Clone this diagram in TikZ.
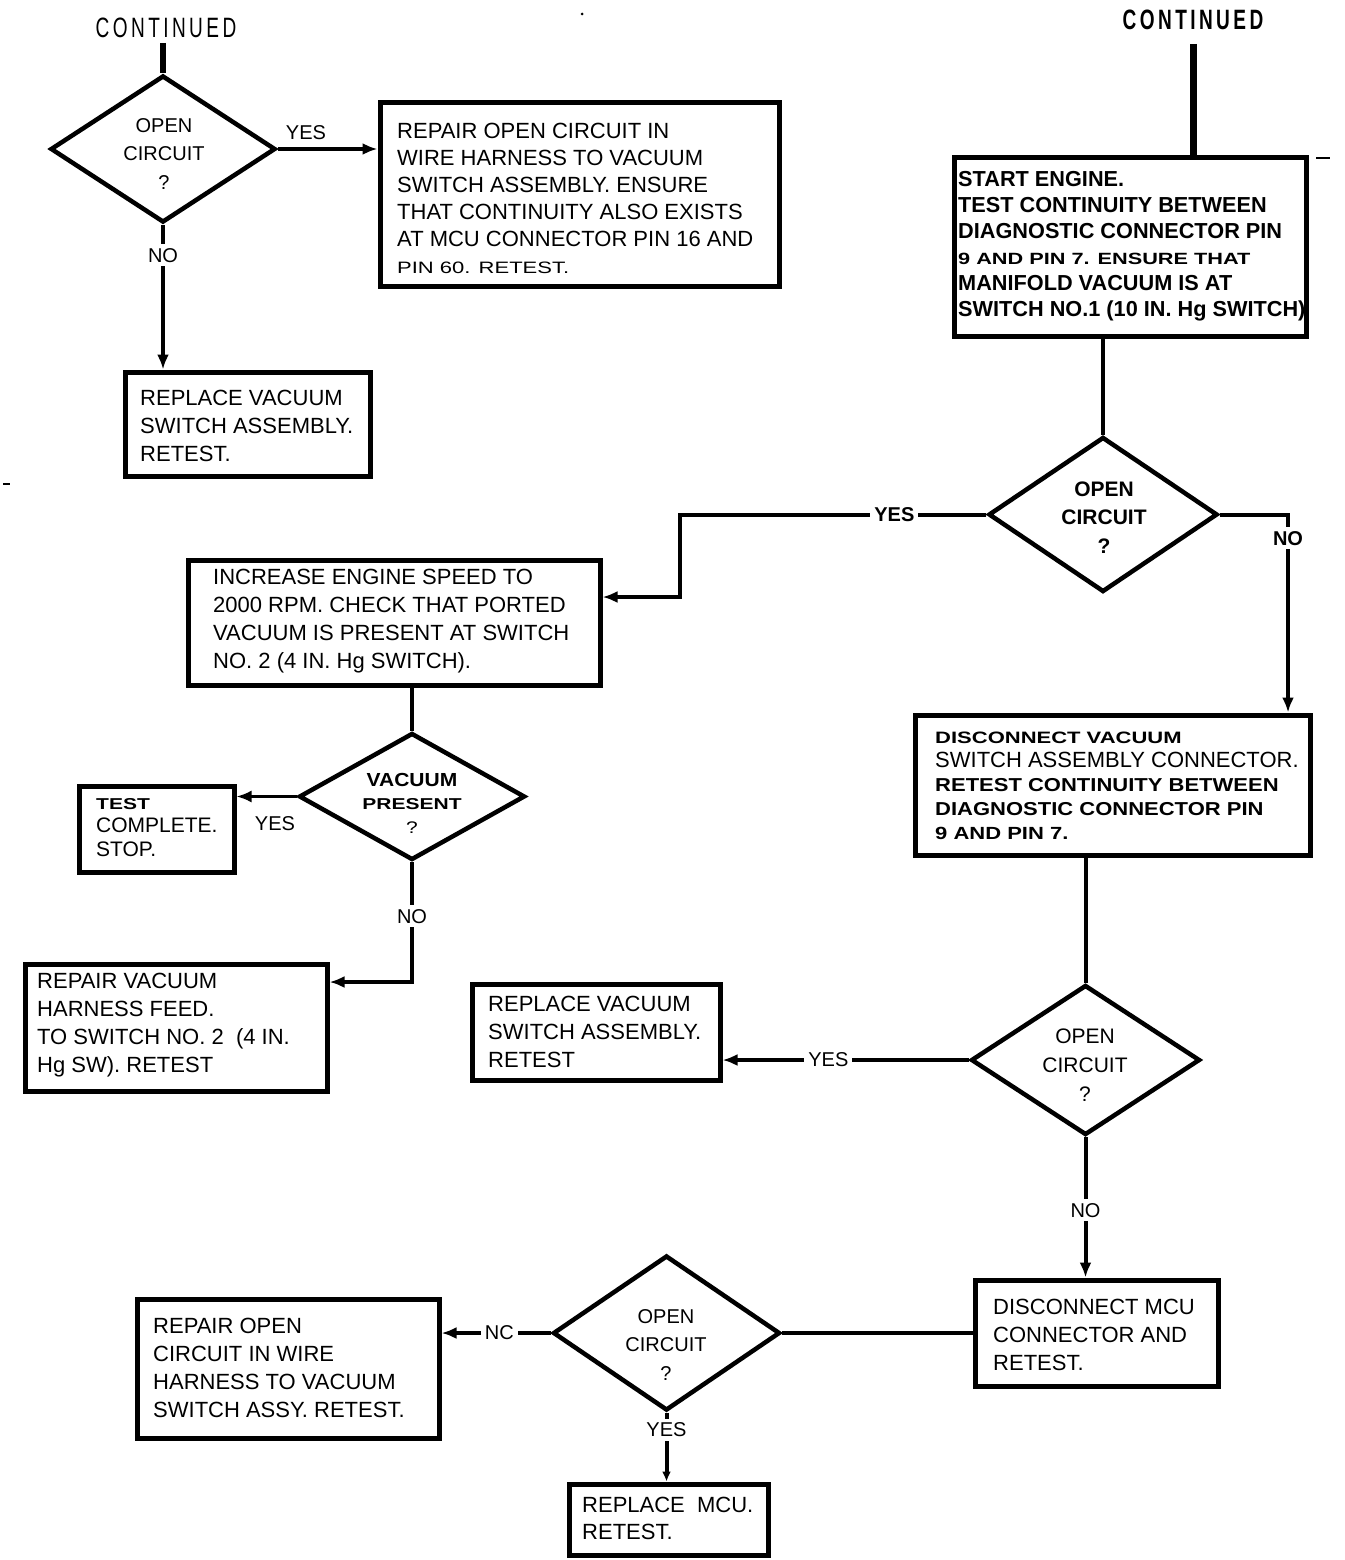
\documentclass[tikz,border=0pt]{standalone}
\usepackage{fontspec}
\setmainfont{Liberation Sans}
\usetikzlibrary{shapes.geometric,arrows.meta}
\newcommand\ysq[2][0.75]{\scalebox{1}[#1]{#2}}
\begin{document}
\begin{tikzpicture}[x=1pt,y=-1pt,
  box/.style={draw,line width=5pt,rectangle,inner sep=0pt},
  dia/.style={draw,line width=4.5pt,diamond,inner sep=0pt},
  conn/.style={line width=4pt},
  arr/.style={conn,-{Latex[length=15pt,width=12pt]}},
  txt/.style={inner sep=0pt,anchor=west,align=left,font=\fontsize{22}{28}\selectfont},
  dtxt/.style={inner sep=0pt,align=center,font=\fontsize{20}{28.5}\selectfont},
  lbl/.style={inner sep=4pt,fill=white,font=\fontsize{20}{24}\selectfont},
  cont/.style={inner sep=0pt,outer sep=5pt,font=\fontsize{28}{30}\selectfont}
]
\useasboundingbox (0,0) rectangle (1344,1560);

% headings
\node[cont] (cl) at (166,28) {\scalebox{0.68}[1]{\addfontfeature{LetterSpace=18}CONTINUED}};
\node[cont,outer sep=14pt] (cr) at (1193,20) {\scalebox{0.68}[1]{\bfseries\addfontfeature{LetterSpace=18}CONTINUED}};

% boxes
\node[box,minimum width=399,minimum height=183] (b1) at (579.5,194.5) {};
\node[box,minimum width=245,minimum height=104] (b2) at (247.5,424) {};
\node[box,minimum width=352,minimum height=179] (b3) at (1130,246.5) {};
\node[box,minimum width=412,minimum height=125] (b4) at (394,622.5) {};
\node[box,minimum width=395,minimum height=140] (b5) at (1112.5,785) {};
\node[box,minimum width=248,minimum height=96] (b6) at (596,1032) {};
\node[box,minimum width=243,minimum height=106] (b7) at (1096.5,1333) {};
\node[box,minimum width=302,minimum height=139] (b8) at (288,1368.5) {};
\node[box,minimum width=199,minimum height=71] (b9) at (668.5,1519.5) {};
\node[box,minimum width=155,minimum height=86] (b10) at (156.5,829) {};
\node[box,minimum width=302,minimum height=127] (b11) at (176,1027.5) {};

% diamonds
\node[dia,minimum width=225,minimum height=147] (d1) at (163,149) {};
\node[dia,minimum width=229,minimum height=155] (d2) at (1103,514.5) {};
\node[dia,minimum width=229,minimum height=150] (d3) at (1085.5,1060) {};
\node[dia,minimum width=227,minimum height=155] (d4) at (666.5,1333) {};
\node[dia,minimum width=226,minimum height=127] (d5) at (412,796.5) {};

% box texts
\node[txt,font=\fontsize{22}{27}\selectfont] (t1) at (397,198.5) {REPAIR OPEN CIRCUIT IN\\WIRE HARNESS TO VACUUM\\SWITCH ASSEMBLY. ENSURE\\THAT CONTINUITY ALSO EXISTS\\AT MCU CONNECTOR PIN 16 AND\\\ysq{PIN 60. RETEST.}};
\node[txt] (t2) at (140,426) {REPLACE VACUUM\\SWITCH ASSEMBLY.\\RETEST.};
\node[txt,font=\fontsize{21.7}{26}\selectfont\bfseries] (t3) at (958,246) {START ENGINE.\\TEST CONTINUITY BETWEEN\\DIAGNOSTIC CONNECTOR PIN\\\ysq{9 AND PIN 7. ENSURE THAT}\\MANIFOLD VACUUM IS AT\\SWITCH NO.1 (10 IN. Hg SWITCH)};
\node[txt] (t4) at (213,621.5) {INCREASE ENGINE SPEED TO\\2000 RPM. CHECK THAT PORTED\\VACUUM IS PRESENT AT SWITCH\\NO. 2 (4 IN. Hg SWITCH).};
\node[txt,font=\fontsize{22}{24}\selectfont] (t5) at (935,786) {\ysq{\bfseries DISCONNECT VACUUM}\\SWITCH ASSEMBLY CONNECTOR.\\\ysq[0.85]{\bfseries RETEST CONTINUITY BETWEEN}\\\ysq[0.85]{\bfseries DIAGNOSTIC CONNECTOR PIN}\\\ysq[0.8]{\bfseries 9 AND PIN 7.}};
\node[txt] (t6) at (488,1032) {REPLACE VACUUM\\SWITCH ASSEMBLY.\\RETEST};
\node[txt] (t7) at (993,1335) {DISCONNECT MCU\\CONNECTOR AND\\RETEST.};
\node[txt] (t8) at (153,1367.5) {REPAIR OPEN\\CIRCUIT IN WIRE\\HARNESS TO VACUUM\\SWITCH ASSY. RETEST.};
\node[txt,font=\fontsize{22}{27}\selectfont] (t9) at (582,1518.5) {REPLACE\ \ MCU.\\RETEST.};
\node[txt,font=\fontsize{21}{23.5}\selectfont] (t10) at (96,827.5) {\ysq{\bfseries TEST}\\COMPLETE.\\STOP.};
\node[txt] (t11) at (37,1025.5) {REPAIR VACUUM\\HARNESS FEED.\\TO SWITCH NO. 2\ \ (4 IN.\\Hg SW). RETEST};

% diamond texts
\node[dtxt] (q1) at (164,154) {OPEN\\CIRCUIT\\?};
\node[dtxt,font=\fontsize{21}{28.5}\selectfont\bfseries] (q2) at (1104,517.5) {OPEN\\CIRCUIT\\?};
\node[dtxt,font=\fontsize{21}{29}\selectfont] (q3) at (1085,1065) {OPEN\\CIRCUIT\\?};
\node[dtxt] (q4) at (666,1344.5) {OPEN\\CIRCUIT\\?};
\node[dtxt,font=\fontsize{21}{23.5}\selectfont] (q5) at (412,803) {\ysq[0.9]{\bfseries VACUUM}\\\ysq{\bfseries PRESENT}\\\ysq[0.8]{?}};

% connectors
\draw[conn,line width=6pt] (cl.south -| d1.north) -- (d1.north);
\draw[arr] (d1.east) -- (d1.east -| b1.west);
\node[lbl,fill=none] (l1) at (306,133) {YES};
\draw[arr] (d1.south) -- node[lbl,pos=0.21]{NO} (d1.south |- b2.north);

\draw[conn,line width=7pt] (cr.south) -- (cr.south |- b3.north);
\draw[conn] (b3.south -| d2.north) -- (d2.north);
\coordinate (k1) at (680,514.5);
\draw[arr] (d2.west) -- node[lbl,pos=0.30,font=\fontsize{20}{24}\selectfont\bfseries]{YES} (k1) |- (b4.east |- 0,597);
\coordinate (k2) at (1288,514.5);
\draw[arr] (d2.east) -- (k2) -- node[lbl,pos=0.12,font=\fontsize{20}{24}\selectfont\bfseries]{NO} (k2 |- b5.north);

\draw[conn] (b5.south -| d3.north) -- (d3.north);
\draw[arr] (d3.west) -- node[lbl,pos=0.57]{YES} (d3.west -| b6.east);
\draw[arr] (d3.south) -- node[lbl,pos=0.52]{NO} (d3.south |- b7.north);
\draw[conn] (d4.east) -- (d4.east -| b7.west);
\draw[arr] (d4.west) -- node[lbl,pos=0.47]{NC} (d4.west -| b8.east);
\draw[conn,-{Latex[length=10pt,width=9pt]}] (d4.south) -- node[lbl,pos=0.25]{YES} (d4.south |- b9.north);

\draw[conn] (b4.south -| d5.north) -- (d5.north);
\draw[arr,line width=2.5pt] (d5.west) -- (d5.west -| b10.east);
\node[lbl,fill=none] (l5) at (275,824) {YES};
\draw[arr] (d5.south) |- node[lbl,pos=0.225]{NO} (b11.east |- 0,982);

% specks
\fill (582,14) circle (1.5);
\fill (1316,157) rectangle (1330,159);
\fill (3,483) rectangle (10,485);
\end{tikzpicture}
\end{document}
